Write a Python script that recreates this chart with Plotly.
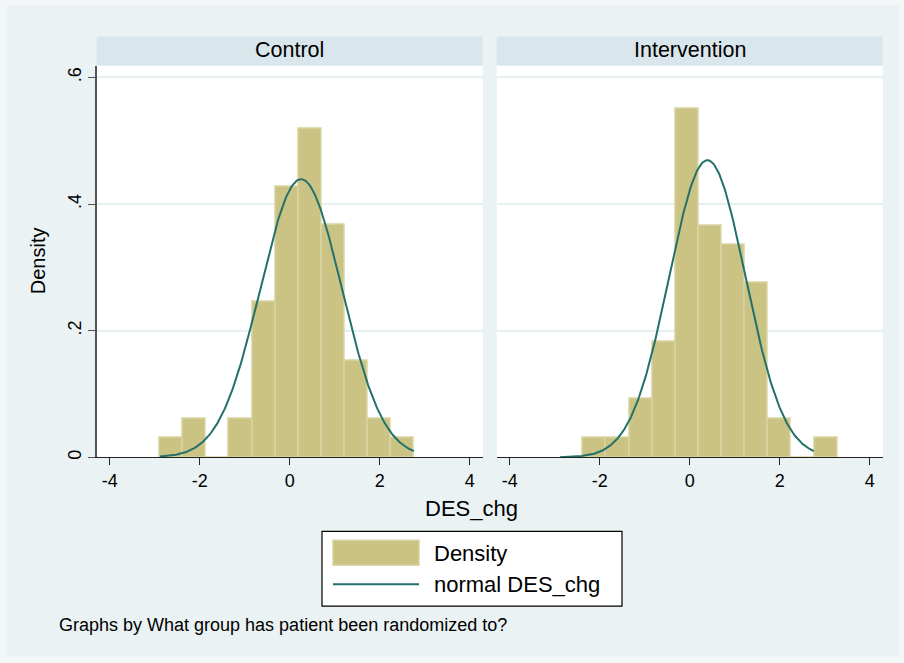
import numpy as np
import plotly.graph_objects as go

# ---- data -------------------------------------------------------------
groups = ["Control", "Intervention"]

# histogram bins (11 equal bins from min to max of DES_chg in each group)
control_lo, control_hi = -2.889, 2.764
intervention_lo, intervention_hi = -2.371, 3.282
n_bins = 11

control_density = [0.031, 0.061, 0.0, 0.061, 0.245, 0.428, 0.519, 0.367, 0.153, 0.061, 0.031]
intervention_density = [0.031, 0.031, 0.092, 0.183, 0.550, 0.366, 0.336, 0.275, 0.061, 0.0, 0.031]

# fitted normal: mean, sd
control_mean, control_sd = 0.253, 0.908
intervention_mean, intervention_sd = 0.393, 0.850
curve_lo, curve_hi = -2.885, 2.760

x_ticks = [-4, -2, 0, 2, 4]
y_ticks = [0, 0.2, 0.4, 0.6]
y_tick_text = ["0", ".2", ".4", ".6"]

# ---- styling ----------------------------------------------------------
W, H = 904, 663
FONT = "Liberation Sans, Arial, Helvetica, sans-serif"
BG = "#EAF2F3"
EDGE_BG = "#F2F6F7"
STRIP = "#D9E6EB"
BAR = "#CAC383"
BAR_EDGE = "#D9D4A3"
LINE = "#24706B"
GRID = "#E6EFF1"


def px(x):
    return x / W


def py(y):
    return 1 - y / H


left_dom = [px(96.7), px(482.7)]
right_dom = [px(496.7), px(882.7)]
y_dom = [py(458.7), py(66.0)]


def bins(lo, hi):
    w = (hi - lo) / n_bins
    centers = [lo + w * (i + 0.5) for i in range(n_bins)]
    return centers, w


def normal_curve(mu, sd):
    xs = np.linspace(curve_lo, curve_hi, 300)
    ys = np.exp(-0.5 * ((xs - mu) / sd) ** 2) / (sd * np.sqrt(2 * np.pi))
    return xs, ys


fig = go.Figure()

panels = [
    ("x", "y", control_lo, control_hi, control_density, control_mean, control_sd),
    ("x2", "y2", intervention_lo, intervention_hi, intervention_density, intervention_mean, intervention_sd),
]
for xa, ya, lo, hi, dens, mu, sd in panels:
    c, w = bins(lo, hi)
    fig.add_trace(go.Bar(
        x=c, y=dens, width=w, xaxis=xa, yaxis=ya,
        marker=dict(color=BAR, line=dict(color=BAR_EDGE, width=1.5)),
        showlegend=False, hoverinfo="skip",
    ))
    xs, ys = normal_curve(mu, sd)
    fig.add_trace(go.Scatter(
        x=xs, y=ys, mode="lines", xaxis=xa, yaxis=ya,
        line=dict(color=LINE, width=2), showlegend=False, hoverinfo="skip",
    ))

xaxis_common = dict(
    range=[-4.29, 4.29], tickvals=x_ticks, ticktext=[str(t) for t in x_ticks],
    ticks="outside", ticklen=7, tickwidth=1.2, tickcolor="#222",
    showline=True, linecolor="#222", linewidth=1.3,
    showgrid=False, zeroline=False,
    tickfont=dict(family=FONT, size=18, color="#000"),
    fixedrange=True,
)
yaxis_common = dict(
    range=[0, 0.6184], domain=y_dom, tickvals=y_ticks,
    showgrid=True, gridcolor=GRID, gridwidth=2, zeroline=False,
    fixedrange=True,
)

fig.update_layout(
    width=W, height=H, margin=dict(l=0, r=0, t=0, b=0),
    paper_bgcolor=EDGE_BG, plot_bgcolor="white",
    bargap=0, showlegend=False,
    xaxis=dict(domain=left_dom, anchor="y", **xaxis_common),
    xaxis2=dict(domain=right_dom, anchor="y2", **xaxis_common),
    yaxis=dict(anchor="x", ticktext=y_tick_text, tickangle=-90,
               ticks="outside", ticklen=7, tickcolor="#555", tickwidth=1.2,
               showline=True, linecolor="#555", linewidth=1.5,
               tickfont=dict(family=FONT, size=18, color="#000"),
               **yaxis_common),
    yaxis2=dict(anchor="x2", showticklabels=False, ticks="", showline=False,
                **yaxis_common),
)

shapes = [
    # graph region
    dict(type="rect", xref="paper", yref="paper", x0=px(7), x1=px(899), y0=py(658), y1=py(5),
         fillcolor=BG, line=dict(width=0), layer="below"),
]
annotations = []
for dom, name in zip([left_dom, right_dom], groups):
    shapes.append(dict(type="rect", xref="paper", yref="paper", x0=dom[0], x1=dom[1],
                       y0=py(66.0), y1=py(36.7), fillcolor=STRIP, line=dict(width=0), layer="below"))
    shapes.append(dict(type="rect", xref="paper", yref="paper", x0=dom[0], x1=dom[1],
                       y0=y_dom[0], y1=y_dom[1], fillcolor="white", line=dict(width=0), layer="below"))
    annotations.append(dict(text=name, xref="paper", yref="paper", x=(dom[0] + dom[1]) / 2,
                            y=py(50.0), xanchor="center", yanchor="middle", showarrow=False,
                            font=dict(family=FONT, size=21.5, color="#000")))

# axis titles
annotations.append(dict(text="Density", xref="paper", yref="paper", x=px(38), y=py(262),
                        textangle=-90, xanchor="center", yanchor="middle", showarrow=False,
                        font=dict(family=FONT, size=20, color="#000")))
annotations.append(dict(text="DES_chg", xref="paper", yref="paper", x=px(471), y=py(510),
                        xanchor="center", yanchor="middle", showarrow=False,
                        font=dict(family=FONT, size=22, color="#000")))

# legend box
shapes.append(dict(type="rect", xref="paper", yref="paper", x0=px(322), x1=px(622),
                   y0=py(608), y1=py(533), fillcolor="white", line=dict(color="#000", width=1.2)))
shapes.append(dict(type="rect", xref="paper", yref="paper", x0=px(333), x1=px(419),
                   y0=py(567), y1=py(542), fillcolor=BAR, line=dict(color=BAR_EDGE, width=1.5)))
shapes.append(dict(type="line", xref="paper", yref="paper", x0=px(333), x1=px(419),
                   y0=py(586), y1=py(586), line=dict(color=LINE, width=2)))
annotations.append(dict(text="Density", xref="paper", yref="paper", x=px(432), y=py(555),
                        xanchor="left", yanchor="middle", showarrow=False,
                        font=dict(family=FONT, size=22, color="#000")))
annotations.append(dict(text="normal DES_chg", xref="paper", yref="paper", x=px(432), y=py(586),
                        xanchor="left", yanchor="middle", showarrow=False,
                        font=dict(family=FONT, size=22, color="#000")))

# note
annotations.append(dict(text="Graphs by What group has patient been randomized to?",
                        xref="paper", yref="paper", x=px(57), y=py(627),
                        xanchor="left", yanchor="middle", showarrow=False,
                        font=dict(family=FONT, size=18, color="#000")))

fig.update_layout(shapes=shapes, annotations=annotations)
fig.write_html("out.html")
